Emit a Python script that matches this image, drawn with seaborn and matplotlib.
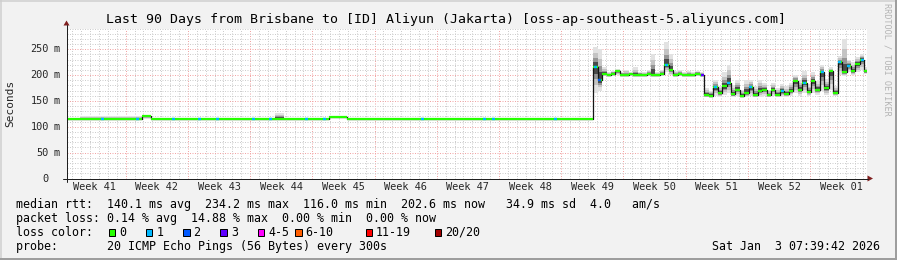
import numpy as np
import pandas as pd
import matplotlib
matplotlib.use("Agg")
import matplotlib.pyplot as plt
import matplotlib.transforms as mtransforms
from matplotlib.patches import Rectangle, Polygon
from matplotlib.lines import Line2D
import seaborn as sns

# ---------------- data ----------------
TITLE = "Last 90 Days from Brisbane to [ID] Aliyun (Jakarta) [oss-ap-southeast-5.aliyuncs.com]"
WEEK_LABELS = ["Week 41", "Week 42", "Week 43", "Week 44", "Week 45", "Week 46", "Week 47",
               "Week 48", "Week 49", "Week 50", "Week 51", "Week 52", "Week 01"]
Y_TICKS = [0, 50, 100, 150, 200, 250]
Y_TICK_NUMS = ["0", "50", "100", "150", "200", "250"]
Y_UNIT = "m"
Y_LABEL = "Seconds"

# first part: one sample per day (days 0..59)
days_a = list(range(60))
median_a = [116, 116, 116, 116, 116, 116, 116, 116, 116, 121,
            116, 116, 116, 116, 116, 116, 116, 116, 116, 116,
            116, 116, 116, 116, 116, 116, 116, 116, 116, 116,
            118, 118, 116, 116, 116, 116, 116, 116, 116, 116,
            116, 116, 116, 116, 116, 116, 116, 116, 116, 116,
            116, 116, 116, 116, 116, 116, 116, 116, 116, 116]
hi_a = [117, 117, 120, 120, 120, 120, 120, 120, 120, 123,
        117, 117, 117, 117, 117, 117, 117, 117, 117, 117,
        117, 117, 117, 117, 126, 117, 117, 117, 117, 117,
        119, 119, 117, 117, 117, 117, 117, 117, 117, 117,
        117, 117, 117, 117, 117, 117, 117, 117, 117, 117,
        117, 117, 117, 117, 117, 117, 117, 117, 117, 117]
lo_a = [115, 115, 115, 115, 115, 115, 115, 115, 115, 116,
        115, 115, 115, 115, 115, 115, 115, 115, 115, 115,
        115, 115, 115, 115, 115, 115, 115, 115, 115, 115,
        117, 117, 115, 115, 115, 115, 115, 115, 115, 115,
        115, 115, 115, 115, 115, 115, 115, 115, 115, 115,
        115, 115, 115, 115, 115, 115, 115, 115, 115, 115]
loss_a = [0, 0, 0, 0, 1, 0, 0, 0, 1, 0,
          0, 0, 1, 0, 0, 1, 0, 1, 0, 0,
          0, 1, 0, 1, 0, 0, 0, 1, 0, 1,
          0, 0, 0, 0, 0, 0, 0, 0, 0, 0,
          1, 0, 0, 0, 0, 0, 0, 1, 1, 0,
          0, 0, 0, 0, 0, 1, 0, 0, 0, 0]

# second part: two samples per day (days 59.5..90)
days_b = list(np.arange(59.5, 90.01, 0.5))
median_b = [215, 190, 202, 200, 203, 207, 201, 200, 202, 200,
            201, 200, 202, 201, 200, 203, 220, 210, 201, 202,
            200, 201, 200, 203, 200,
            162, 160, 176, 165, 178, 185, 163, 172, 160, 166,
            176, 162, 170, 172, 161, 172, 162, 169, 163, 170,
            188, 172, 185, 168, 188, 172, 205, 175, 207, 165,
            225, 205, 218, 208, 222, 230, 207]
hi_b = [255, 250, 215, 205, 208, 212, 206, 210, 206, 215,
        206, 206, 210, 240, 206, 210, 263, 240, 208, 210,
        206, 208, 206, 208, 206,
        175, 170, 190, 178, 205, 220, 180, 190, 172, 191,
        190, 178, 191, 185, 172, 185, 175, 182, 178, 185,
        201, 190, 207, 182, 205, 188, 220, 192, 215, 178,
        236, 269, 230, 225, 235, 240, 215]
lo_b = [165, 170, 198, 197, 199, 200, 197, 197, 198, 197,
        197, 197, 198, 197, 197, 199, 205, 200, 197, 198,
        197, 197, 197, 199, 197,
        157, 156, 160, 158, 162, 165, 157, 160, 156, 158,
        160, 157, 158, 160, 157, 160, 158, 158, 158, 160,
        165, 160, 165, 160, 166, 162, 170, 162, 172, 160,
        200, 198, 205, 200, 205, 210, 202]
loss_b = [1, 2, 0, 0, 0, 0, 0, 0, 0, 0,
          0, 0, 0, 0, 0, 0, 1, 0, 0, 0,
          0, 0, 0, 0, 3,
          0, 0, 1, 0, 0, 1, 0, 0, 0, 0,
          1, 0, 0, 0, 0, 0, 0, 1, 0, 0,
          0, 0, 1, 0, 0, 0, 1, 0, 0, 0,
          1, 0, 1, 0, 0, 1, 0]

LOSS_LABELS = ["0", "1", "2", "3", "4-5", "6-10", "11-19", "20/20"]
LOSS_COLORS = ["#26ff00", "#00b8ff", "#0059ff", "#5e00ff", "#ff00ff", "#ff5e00", "#ff0000", "#a10000"]

LEGEND_LINES = [
    "median rtt:  140.1 ms avg  234.2 ms max  116.0 ms min  202.6 ms now   34.9 ms sd  4.0   am/s",
    "packet loss: 0.14 % avg  14.88 % max  0.00 % min  0.00 % now",
    "loss color:",
    "probe:       20 ICMP Echo Pings (56 Bytes) every 300s",
]
TIMESTAMP = "Sat Jan  3 07:39:42 2026"
SIDE_TEXT = "RRDTOOL / TOBI OETIKER"

df = pd.DataFrame({
    "day": days_a + days_b,
    "median": median_a + median_b,
    "hi": hi_a + hi_b,
    "lo": lo_a + lo_b,
    "loss": loss_a + loss_b,
})

# ---------------- style ----------------
W, H, DPI = 897, 260, 100
sns.set_style("white")
plt.rcParams["font.family"] = ["DejaVu Sans Mono", "DejaVu Sans"]
BG = "#f2f2f2"
GRID = "#cdcdcd"
MGRID = "#f2a6a6"
AXIS_C = "#1f1f1f"
ARROW_C = "#801f1f"
PX = 72.0 / DPI  # one pixel in points

fig = plt.figure(figsize=(W / DPI, H / DPI), dpi=DPI, facecolor=BG)

X0, X1 = 66.5, 866.5       # plot area in pixels
YB, YT = 178.5, 28.5
ax = fig.add_axes([X0 / W, (H - YB) / H, (X1 - X0) / W, (YB - YT) / H])
ax.set_facecolor("white")
ax.set_xlim(0, 90)
ax.set_ylim(0, 290)
for s in ax.spines.values():
    s.set_visible(False)

# grid: weeks (major) / days (minor), 50 (major) / 10 (minor)
WEEK0 = 6.66
week_bounds = [WEEK0 + 7 * i for i in range(12)]
ax.set_xticks(week_bounds)
ax.set_xticks([WEEK0 - 6 + i for i in range(90)], minor=True)
ax.set_yticks(Y_TICKS)
ax.set_yticks(list(range(0, 291, 10)), minor=True)
ax.set_xticklabels([])
ax.set_yticklabels([])
ax.grid(True, which="major", color=MGRID, linestyle=(0, (1, 1.5)), linewidth=PX)
ax.grid(True, which="minor", color=GRID, linestyle=(0, (1, 1.5)), linewidth=PX)
ax.tick_params(axis="both", which="both", direction="out", width=PX)
ax.tick_params(axis="y", which="major", length=3 * PX, color="#666666")
ax.tick_params(axis="y", which="minor", length=2 * PX, color="#aaaaaa")
ax.tick_params(axis="x", which="major", length=3 * PX, color="#e08080")
ax.tick_params(axis="x", which="minor", length=2 * PX, color="#aaaaaa")
ax.set_axisbelow(True)

# smoke (layered gray shades around the median)
d = df["day"].to_numpy(dtype=float)
med = df["median"].to_numpy(dtype=float)
hi = df["hi"].to_numpy(dtype=float)
lo = df["lo"].to_numpy(dtype=float)
layers = [(1.0, "#e2e2e2"), (0.7, "#c4c4c4"), (0.45, "#959595"), (0.25, "#4a4a4a")]
for f, c in layers:
    ax.fill_between(d, med - (med - lo) * f, med + (hi - med) * f,
                    step="mid", color=c, linewidth=0, zorder=2)

# dark core of smoke (step line)
sns.lineplot(data=df, x="day", y="median", ax=ax, color="#141414",
             linewidth=0.9, drawstyle="steps-mid", zorder=3, legend=False)

# median coloured by loss
edges = np.concatenate([[d[0] - 0.5], (d[1:] + d[:-1]) / 2, [d[-1] + 0.25]])
ax.hlines(med, edges[:-1], edges[1:], colors=LOSS_COLORS[0], linewidth=1.6, zorder=4)
lossv = df["loss"].to_numpy()
for i in np.nonzero(lossv > 0)[0]:
    ax.hlines(med[i], d[i] - 0.17, d[i] + 0.17, colors=LOSS_COLORS[lossv[i]],
              linewidth=1.7, zorder=5)
ax.set_xlabel("")
ax.set_ylabel("")

# ---------------- overlay (pixel coordinates) ----------------
ov = fig.add_axes([0, 0, 1, 1], facecolor="none")
ov.set_xlim(0, W)
ov.set_ylim(H, 0)
ov.axis("off")

# frame shading
ov.add_line(Line2D([0, W], [0.75, 0.75], color="#cfcfcf", linewidth=1.5 * PX))
ov.add_line(Line2D([0.75, 0.75], [0, H], color="#cfcfcf", linewidth=1.5 * PX))
ov.add_line(Line2D([0, W], [H - 1.0, H - 1.0], color="#9e9e9e", linewidth=2 * PX))
ov.add_line(Line2D([W - 1.0, W - 1.0], [0, H], color="#9e9e9e", linewidth=2 * PX))

# axes + arrows
ov.add_line(Line2D([X0, X0], [YB + 3.5, 25], color=AXIS_C, linewidth=PX))
ov.add_line(Line2D([X0 - 4, X1 + 1], [YB, YB], color=AXIS_C, linewidth=PX))
ov.add_patch(Polygon([(X0 - 3, 25.5), (X0 + 3, 25.5), (X0, 20.5)], closed=True,
                     color=ARROW_C, linewidth=0))
ov.add_patch(Polygon([(X1 + 1, YB - 3), (X1 + 1, YB + 3), (X1 + 6.5, YB)], closed=True,
                     color=ARROW_C, linewidth=0))

# title
ov.text(W / 2 - 2, 19, TITLE, ha="center", va="center", fontsize=9.5, color="black")

# y tick labels
ytr = mtransforms.blended_transform_factory(ov.transData, ax.transData)
for v, num in zip(Y_TICKS, Y_TICK_NUMS):
    ov.text(48.8, v, num, transform=ytr, ha="right", va="center", fontsize=7.4)
    if v != 0:
        ov.text(53.8, v, Y_UNIT, transform=ytr, ha="left", va="center", fontsize=7.4)

# y axis label
ov.text(10.5, 103, Y_LABEL, rotation=90, ha="center", va="center", fontsize=8.0)

# week labels
xtr = mtransforms.blended_transform_factory(ax.transData, ov.transData)
for i, lab in enumerate(WEEK_LABELS):
    ov.text(WEEK0 - 7 + 3.5 + 7 * i, 187.5, lab, transform=xtr, ha="center",
            va="center", fontsize=7.4)

# side text
ov.text(887.5, 59, SIDE_TEXT, rotation=-90, ha="center", va="center",
        fontsize=6.1, color="#b4b4b4")

# legend lines
LEG_Y = [204.3, 218.3, 232.2, 246.2]
for y, line in zip(LEG_Y, LEGEND_LINES):
    ov.text(16, y, line, ha="left", va="center", fontsize=8.4, color="black")
ov.text(880.5, LEG_Y[3], TIMESTAMP, ha="right", va="center", fontsize=8.4, color="black")

# loss colour boxes
BOX_X = [108.5, 145.8, 183.1, 220.4, 257.7, 295.0, 365.5, 434.5]
for bx, lab, col in zip(BOX_X, LOSS_LABELS, LOSS_COLORS):
    ov.add_patch(Rectangle((bx, LEG_Y[2] - 3.5), 6.5, 7, facecolor=col,
                           edgecolor="black", linewidth=PX))
    ov.text(bx + 10.5, LEG_Y[2], lab, ha="left", va="center", fontsize=8.4, color="black")

fig.savefig("out.png", dpi=DPI, facecolor=BG)
